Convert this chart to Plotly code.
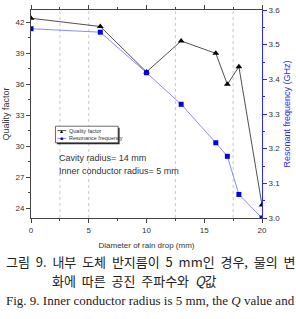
import plotly.graph_objects as go

diameter = [0, 6, 10, 13, 16, 17, 18, 20]
quality_factor = [42.4, 41.6, 37.2, 40.2, 39.0, 36.0, 37.7, 24.3]
resonant_freq = [3.546, 3.536, 3.419, 3.328, 3.217, 3.178, 3.068, 3.0]
grid_x = [2.5, 5, 12.5, 17.5]
series_names = ["Quality factor", "Resonance frequency"]

BLUE = "#2a2aff"
W, H = 296, 319
L, R, T, B = 31, 29, 5, 101
pw, ph = W - L - R, H - T - B

def px(x):
    return (x - L) / pw

def py(y):
    return (H - B - y) / ph

fig = go.Figure()
fig.add_trace(go.Scatter(x=diameter, y=quality_factor, name=series_names[0],
                         mode="lines+markers", showlegend=False,
                         line=dict(color="#222222", width=0.8),
                         marker=dict(symbol="triangle-up", size=6, color="black")))
fig.add_trace(go.Scatter(x=diameter, y=resonant_freq, name=series_names[1],
                         yaxis="y2", mode="lines+markers", showlegend=False,
                         line=dict(color="#6f6fff", width=0.8),
                         marker=dict(symbol="square", size=5, color="#0000ee")))

for g in grid_x:
    fig.add_shape(type="line", xref="x", yref="paper", x0=g, x1=g, y0=0, y1=1,
                  line=dict(color="#bbbbbb", width=0.8, dash="dot"), layer="below")

# manual compact legend
lx0, lx1, ly0, ly1 = 56, 120, 124, 141
fig.add_shape(type="rect", xref="paper", yref="paper",
              x0=px(lx0 + 1.5), x1=px(lx1 + 1.5), y0=py(ly1 + 1.5), y1=py(ly0 + 1.5),
              fillcolor="#222", line=dict(width=0))
fig.add_shape(type="rect", xref="paper", yref="paper",
              x0=px(lx0), x1=px(lx1), y0=py(ly1), y1=py(ly0),
              fillcolor="white", line=dict(color="#444", width=0.8))
legend_items = [(series_names[0], "#222", "black", "▲", 128.5),
                (series_names[1], "#6f6fff", "#0000ee", "■", 136.5)]
for name, lc, mc, sym, yy in legend_items:
    fig.add_shape(type="line", xref="paper", yref="paper",
                  x0=px(58), x1=px(67), y0=py(yy), y1=py(yy),
                  line=dict(color=lc, width=0.8))
    fig.add_annotation(text=sym, xref="paper", yref="paper", x=px(62.5), y=py(yy),
                       xanchor="center", yanchor="middle", showarrow=False,
                       font=dict(size=5, color=mc))
    fig.add_annotation(text=name, xref="paper", yref="paper", x=px(68), y=py(yy),
                       xanchor="left", yanchor="middle", showarrow=False,
                       font=dict(family="Liberation Sans, Arial", size=5.5, color="#333"))

tickfont = dict(family="Liberation Sans, Arial", size=8, color="#333333")
fig.update_layout(
    width=W, height=H, margin=dict(l=L, r=R, t=T, b=B),
    paper_bgcolor="white", plot_bgcolor="white",
    showlegend=False,
    xaxis=dict(range=[0, 20], dtick=5, showgrid=False, zeroline=False,
               showline=True, linecolor="#444", linewidth=1, mirror="ticks",
               ticks="outside", ticklen=4, tickcolor="#444",
               minor=dict(dtick=2.5, ticks="outside", ticklen=2, tickcolor="#444"),
               tickfont=tickfont,
               title=dict(text="Diameter of rain drop (mm)", standoff=8,
                          font=dict(family="Liberation Sans, Arial", size=8, color="#333"))),
    yaxis=dict(range=[23.05, 43.2], dtick=3, tick0=24, showgrid=False, zeroline=False,
               showline=True, linecolor="#444", linewidth=1,
               ticks="outside", ticklen=4, tickcolor="#444",
               minor=dict(dtick=1.5, ticks="outside", ticklen=2, tickcolor="#444"),
               tickfont=tickfont,
               title=dict(text="Quality factor", standoff=4,
                          font=dict(family="Liberation Sans, Arial", size=9, color="#333"))),
    yaxis2=dict(range=[3.0, 3.6], dtick=0.1, overlaying="y", side="right",
                showgrid=False, zeroline=False,
                showline=True, linecolor=BLUE, linewidth=1,
                ticks="outside", ticklen=4, tickcolor=BLUE,
                minor=dict(dtick=0.05, ticks="outside", ticklen=2, tickcolor=BLUE),
                tickformat=".1f",
                tickfont=dict(family="Liberation Sans, Arial", size=8, color="#333"),
                title=dict(text="Resonant frequency (GHz)", standoff=4,
                           font=dict(family="Liberation Sans, Arial", size=9, color=BLUE))),
)

notes = [("Cavity radius= 14 mm", 58, 157), ("Inner conductor radius= 5 mm", 58, 170)]
for t, x, y in notes:
    fig.add_annotation(text=t, xref="paper", yref="paper", x=px(x), y=py(y),
                       xanchor="left", yanchor="middle", showarrow=False,
                       font=dict(family="Liberation Sans, Arial", size=9, color="#333"))

sp = "&nbsp;&nbsp;"
captions = [
    (sp.join(["그림", "9.", "내부", "도체", "반지름이", "5", "mm인", "경우,", "물의", "변"]),
     3, 263, "Noto Sans CJK KR", 13),
    (sp.join(["화에", "따른", "공진", "주파수와", "<i>Q</i>값"]), 50, 282, "Noto Sans CJK KR", 13),
    ("Fig. 9. Inner conductor radius is 5 mm, the <i>Q</i> value and", 3, 302,
     "Liberation Serif", 13),
]
for t, x, y, f, s in captions:
    fig.add_annotation(text=t, xref="paper", yref="paper", x=px(x), y=py(y),
                       xanchor="left", yanchor="middle", showarrow=False,
                       font=dict(family=f, size=s, color="#222"))

fig.write_html("out.html")
